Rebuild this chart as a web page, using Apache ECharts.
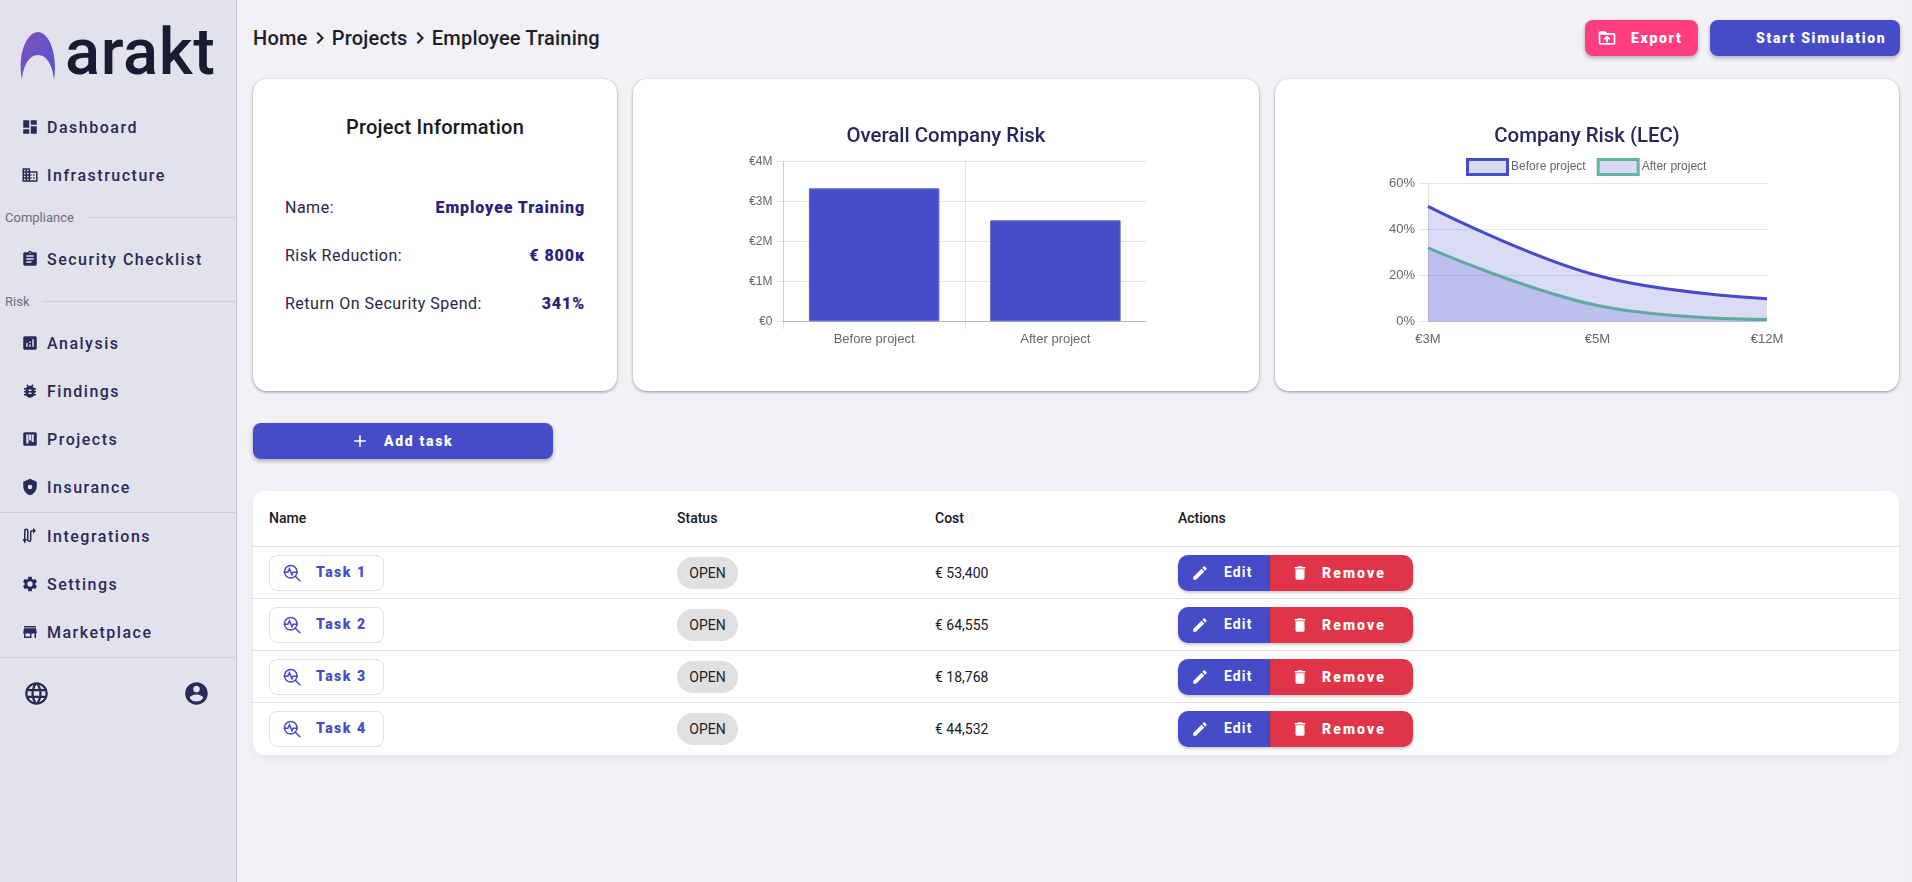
<!DOCTYPE html>
<html>
<head>
<meta charset="utf-8">
<title>arakt</title>
<script src="https://cdn.jsdelivr.net/npm/echarts@6/dist/echarts.min.js"></script>
<style>
html,body{margin:0;padding:0;width:1912px;height:882px;overflow:hidden;background:#f1f1f6;font-family:Roboto,sans-serif;color:#1c1c28}
.abs{position:absolute}
.logotext{left:65px;top:12px;font:500 65px/80px Roboto,sans-serif;color:#171c33;letter-spacing:.6px}
.nav{left:47px;font-size:16px;font-weight:500;letter-spacing:1.5px;color:#2b2a57;line-height:20px;white-space:nowrap}
svg{fill:currentColor;display:block}
.sect{left:5px;font-size:13px;color:#6d6d7d;line-height:16px}
.sline{height:1px;background:#cbcbdb}
.crumb{left:253px;top:25px;font-size:20px;font-weight:500;letter-spacing:.2px;color:#1d1d2b;line-height:26px;white-space:nowrap}
.crumb svg{display:inline-block;vertical-align:-5px;width:24px;height:24px;margin:0 -5px}
.btn{color:#fff;font-weight:900;font-size:14px;letter-spacing:1.7px;border-radius:8px;box-shadow:0 2px 4px rgba(0,0,0,.3);text-align:left;line-height:36px;white-space:nowrap}
.card{background:#fff;border-radius:14px;box-shadow:0 1px 3px rgba(0,0,0,.4)}
.lbl{left:285px;font-size:16px;color:#26264a;letter-spacing:.5px;line-height:20px;white-space:nowrap}
.val{right:1327px;font-size:16px;font-weight:900;color:#2a2378;letter-spacing:.9px;line-height:20px;white-space:nowrap}
.th{top:518px;font-size:14px;font-weight:500;line-height:18px;margin-top:-9px;color:#17171f}
.rowline{left:253px;width:1646px;height:1px;background:#e0e0e0}
.task{left:269px;width:113px;height:34px;border:1px solid #e0e0e6;border-radius:8px;color:#464bc8;font-weight:900;font-size:14px;letter-spacing:1.5px;line-height:33px;background:#fff}
.chip{left:677px;width:61px;height:32px;border-radius:16px;background:#e0e0e0;text-align:center;font-size:14px;line-height:32px;color:#222}
.cost{left:935px;font-size:14px;line-height:18px;color:#17171f}
.edit{left:1178px;width:92px;height:36px;background:#464bc8;border-radius:10px 0 0 10px;color:#fff;font-weight:700;font-size:14px;letter-spacing:1.1px;line-height:34px;box-shadow:0 2px 3px rgba(0,0,0,.2)}
.rem{left:1270px;width:143px;height:36px;background:#e03548;border-radius:0 10px 10px 0;color:#fff;font-weight:900;font-size:14px;letter-spacing:2.1px;line-height:36px;box-shadow:0 2px 3px rgba(0,0,0,.2)}
</style>
</head>
<body>
<div id="page"></div>
<script>
// page content
var sectionLabels = ['Compliance', 'Risk'];
var navLabels = ['Dashboard', 'Infrastructure', 'Security Checklist', 'Analysis', 'Findings', 'Projects', 'Insurance', 'Integrations', 'Settings', 'Marketplace'];
var infoLabels = ['Name:', 'Risk Reduction:', 'Return On Security Spend:'];
var infoValues = ['Employee Training', '€ 800\u043a', '341%'];
var tableHeaders = ['Name', 'Status', 'Cost', 'Actions'];
var taskNames = ['Task 1', 'Task 2', 'Task 3', 'Task 4'];
var taskStatus = ['OPEN', 'OPEN', 'OPEN', 'OPEN'];
var taskCosts = ['€ 53,400', '€ 64,555', '€ 18,768', '€ 44,532'];

// chart data
var riskCategories = ['Before project', 'After project'];
var riskValues = [3325000, 2525000];
var lecLabels = ['€3M', '€5M', '€12M'];
var lecBefore = [50, 20, 10];
var lecAfter = [32, 7, 1];

var icons = {
  dashboard: 'M3 13h8V3H3v10zm0 8h8v-6H3v6zm10 0h8V11h-8v10zm0-18v6h8V3h-8z',
  domain: 'M12 7V3H2v18h20V7H12zM6 19H4v-2h2v2zm0-4H4v-2h2v2zm0-4H4V9h2v2zm0-4H4V5h2v2zm4 12H8v-2h2v2zm0-4H8v-2h2v2zm0-4H8V9h2v2zm0-4H8V5h2v2zm10 12h-8v-2h2v-2h-2v-2h2v-2h-2V9h8v10zm-2-8h-2v2h2v-2zm0 4h-2v2h2v-2z',
  assignment: 'M19 3h-4.18C14.4 1.84 13.3 1 12 1c-1.3 0-2.4.84-2.82 2H5c-1.1 0-2 .9-2 2v14c0 1.1.9 2 2 2h14c1.1 0 2-.9 2-2V5c0-1.1-.9-2-2-2zm-7 0c.55 0 1 .45 1 1s-.45 1-1 1-1-.45-1-1 .45-1 1-1zm2 14H7v-2h7v2zm3-4H7v-2h10v2zm0-4H7V7h10v2z',
  analytics: 'M19 3H5c-1.1 0-2 .9-2 2v14c0 1.1.9 2 2 2h14c1.1 0 2-.9 2-2V5c0-1.1-.9-2-2-2zM9 17H7v-5h2v5zm4 0h-2v-3h2v3zm0-5h-2v-2h2v2zm4 5h-2V7h2v10z',
  bug: 'M20 8h-2.81c-.45-.78-1.07-1.45-1.82-1.96L17 4.41 15.59 3l-2.17 2.17C12.96 5.06 12.49 5 12 5c-.49 0-.96.06-1.41.17L8.41 3 7 4.41l1.62 1.63C7.88 6.55 7.26 7.22 6.81 8H4v2h2.09c-.05.33-.09.66-.09 1v1H4v2h2v1c0 .34.04.67.09 1H4v2h2.81c1.04 1.79 2.97 3 5.19 3s4.15-1.21 5.19-3H20v-2h-2.09c.05-.33.09-.66.09-1v-1h2v-2h-2v-1c0-.34-.04-.67-.09-1H20V8zm-6 8h-4v-2h4v2zm0-4h-4v-2h4v2z',
  kanban: 'M5 3h14a2 2 0 0 1 2 2v14a2 2 0 0 1-2 2H5a2 2 0 0 1-2-2V5a2 2 0 0 1 2-2zm2 3v12h3V6H7zm3.8 0v8h2.6V6h-2.6zm3.4 0v10h2.8V6h-2.8z',
  shield: 'M12 1L3 5v6c0 5.55 3.84 10.74 9 12 5.16-1.26 9-6.45 9-12V5l-9-4zm0 8a3 3 0 1 1 0 6 3 3 0 0 1 0-6z',
  route: 'M7 2a3 3 0 0 1 3 3v12a1 1 0 0 0 2 0V7a3 3 0 0 1 3-3h1V1l4 4-4 4V6h-1a1 1 0 0 0-1 1v10a3 3 0 0 1-6 0V5a1 1 0 0 0-2 0v11h2l-3 6-3-6h2V5a3 3 0 0 1 3-3z',
  settings: 'M19.14 12.94c.04-.3.06-.61.06-.94 0-.32-.02-.64-.07-.94l2.03-1.58c.18-.14.23-.41.12-.61l-1.92-3.32c-.12-.22-.37-.29-.59-.22l-2.39.96c-.5-.38-1.03-.7-1.62-.94l-.36-2.54c-.04-.24-.24-.41-.48-.41h-3.84c-.24 0-.43.17-.47.41l-.36 2.54c-.59.24-1.13.57-1.62.94l-2.39-.96c-.22-.08-.47 0-.59.22L2.74 8.87c-.12.21-.08.47.12.61l2.03 1.58c-.05.3-.09.63-.09.94s.02.64.07.94l-2.03 1.58c-.18.14-.23.41-.12.61l1.92 3.32c.12.22.37.29.59.22l2.39-.96c.5.38 1.03.7 1.62.94l.36 2.54c.05.24.24.41.48.41h3.84c.24 0 .44-.17.47-.41l.36-2.54c.59-.24 1.13-.56 1.62-.94l2.39.96c.22.08.47 0 .59-.22l1.92-3.32c.12-.22.07-.47-.12-.61l-2.01-1.58zM12 15.6c-1.98 0-3.6-1.62-3.6-3.6s1.62-3.6 3.6-3.6 3.6 1.62 3.6 3.6-1.62 3.6-3.6 3.6z',
  store: 'M20 4H4v2h16V4zm1 10v-2l-1-5H4l-1 5v2h1v6h10v-6h4v6h2v-6h1zm-9 4H6v-4h6v4z',
  language: 'M11.99 2C6.47 2 2 6.48 2 12s4.47 10 9.99 10C17.52 22 22 17.52 22 12S17.52 2 11.99 2zm6.93 6h-2.95c-.32-1.25-.78-2.45-1.38-3.56 1.84.63 3.37 1.91 4.33 3.56zM12 4.04c.83 1.2 1.48 2.53 1.91 3.96h-3.82c.43-1.43 1.08-2.76 1.91-3.96zM4.26 14C4.1 13.36 4 12.69 4 12s.1-1.36.26-2h3.38c-.08.66-.14 1.32-.14 2 0 .68.06 1.34.14 2H4.26zm.82 2h2.95c.32 1.25.78 2.45 1.38 3.56-1.84-.63-3.37-1.9-4.33-3.56zm2.95-8H5.08c.96-1.66 2.49-2.93 4.33-3.56C8.81 5.55 8.35 6.75 8.03 8zM12 19.96c-.83-1.2-1.48-2.53-1.91-3.96h3.82c-.43 1.43-1.08 2.76-1.91 3.96zM14.34 14H9.66c-.09-.66-.16-1.32-.16-2 0-.68.07-1.35.16-2h4.68c.09.65.16 1.32.16 2 0 .68-.07 1.34-.16 2zm.25 5.56c.6-1.11 1.06-2.31 1.38-3.56h2.95c-.96 1.65-2.49 2.93-4.33 3.56zM16.36 14c.08-.66.14-1.32.14-2 0-.68-.06-1.34-.14-2h3.38c.16.64.26 1.31.26 2s-.1 1.36-.26 2h-3.38z',
  account: 'M12 2C6.48 2 2 6.48 2 12s4.48 10 10 10 10-4.48 10-10S17.52 2 12 2zm0 3c1.66 0 3 1.34 3 3s-1.34 3-3 3-3-1.34-3-3 1.34-3 3-3zm0 14.2c-2.5 0-4.71-1.28-6-3.22.03-1.99 4-3.08 6-3.08 1.99 0 5.97 1.09 6 3.08-1.29 1.94-3.5 3.22-6 3.22z',
  edit: 'M3 17.25V21h3.75L17.81 9.94l-3.75-3.75L3 17.25zM20.71 7.04c.39-.39.39-1.02 0-1.41l-2.34-2.34c-.39-.39-1.02-.39-1.41 0l-1.83 1.83 3.75 3.75 1.83-1.83z',
  del: 'M6 19c0 1.1.9 2 2 2h8c1.1 0 2-.9 2-2V7H6v12zM19 4h-3.5l-1-1h-5l-1 1H5v2h14V4z',
  upload: 'M20 6h-8l-2-2H4c-1.1 0-2 .9-2 2v12c0 1.1.9 2 2 2h16c1.1 0 2-.9 2-2V8c0-1.1-.9-2-2-2zm0 12H4V8h16v10zM9.41 14.42L11 12.84V17h2v-4.16l1.59 1.59L16 13.01 12.01 9 8 13.01l1.41 1.41z',
  add: 'M19 13h-6v6h-2v-6H5v-2h6V5h2v6h6v2z',
  chevron: 'M8.59 16.59L13.17 12 8.59 7.41 10 6l6 6-6 6z'
};
var navIcons = ['dashboard', 'domain', 'assignment', 'analytics', 'bug', 'kanban', 'shield', 'route', 'settings', 'store'];
var navTops = [128, 176, 260, 344, 392, 440, 488, 537, 585, 633];

function svg(name, style) {
  return '<svg class="abs" viewBox="0 0 24 24" style="' + style + '"><path fill-rule="evenodd" d="' + icons[name] + '"/></svg>';
}
function box(cls, style, html) {
  return '<div class="abs ' + cls + '" style="' + style + '">' + (html || '') + '</div>';
}

var html = box('', 'left:0;top:0;width:236px;height:882px;background:#e2e2ec;border-right:1px solid #c4c4d4');
html += box('', 'left:1905px;top:0;width:7px;height:882px;background:#eeeef3');
// logo
html += '<svg class="abs" style="left:18px;top:30px;width:40px;height:52px" viewBox="0 0 40 52"><defs><linearGradient id="lg" x1="0" y1="0" x2="1" y2="1"><stop offset="0" stop-color="#8052b6"/><stop offset="1" stop-color="#5450dc"/></linearGradient></defs><path fill="url(#lg)" d="M4 50C-1 24 9 2 20 2C31 2 40 24 36 50C35 36 29 25 20 25C11 25 5 36 4 50Z"/></svg>';
html += box('logotext', '', 'arakt');
navLabels.forEach(function (n, i) {
  html += box('nav', 'top:' + (navTops[i] - 10) + 'px', n);
  html += svg(navIcons[i], 'left:21px;top:' + (navTops[i] - 10) + 'px;width:18px;height:18px;color:#2b2a57');
});
html += box('sect', 'top:210px', sectionLabels[0]) + box('sline', 'left:88px;top:217px;width:149px');
html += box('sect', 'top:294px', sectionLabels[1]) + box('sline', 'left:42px;top:301px;width:195px');
html += box('sline', 'left:0;top:512px;width:237px') + box('sline', 'left:0;top:657px;width:237px');
html += svg('language', 'left:23px;top:680px;width:27px;height:27px;color:#2b2a57');
html += svg('account', 'left:183px;top:680px;width:27px;height:27px;color:#2b2a57');

// header
var chev = '<svg viewBox="0 0 24 24"><path d="' + icons.chevron + '"/></svg>';
html += box('crumb', '', 'Home ' + chev + ' Projects ' + chev + ' Employee Training');
html += box('btn', 'left:1585px;top:20px;width:113px;height:36px;background:#ff3d7f', '<span class="abs" style="left:46px">Export</span>' + svg('upload', 'left:12px;top:8px;width:20px;height:20px'));
html += box('btn', 'left:1710px;top:20px;width:190px;height:36px;background:#464bc8', '<span class="abs" style="left:46px">Start Simulation</span>');

// project info card
html += box('card', 'left:253px;top:79px;width:364px;height:312px');
html += box('', 'left:253px;top:114px;width:364px;text-align:center;font-size:20px;font-weight:500;letter-spacing:.25px;line-height:26px;color:#17171f', 'Project Information');
infoLabels.forEach(function (n, i) {
  var t = 198 + i * 48;
  html += box('lbl', 'top:' + t + 'px', n) + box('val', 'top:' + t + 'px', infoValues[i]);
});

// chart cards
html += box('card', 'left:633px;top:79px;width:626px;height:312px', '');
html += box('card', 'left:1275px;top:79px;width:624px;height:312px', '');
html += '<div id="riskChart" class="abs" style="left:633px;top:79px;width:626px;height:312px"></div>';
html += '<div id="lecChart" class="abs" style="left:1275px;top:79px;width:624px;height:312px"></div>';

// add task
html += box('btn', 'left:253px;top:423px;width:300px;height:36px;background:#464bc8', '<span class="abs" style="left:131px">Add task</span>' + svg('add', 'left:97px;top:8px;width:20px;height:20px'));

// table
html += box('', 'left:253px;top:491px;width:1646px;height:264px;background:#fff;border-radius:12px;box-shadow:0 3px 10px rgba(0,0,0,.05)');
var thX = [269, 677, 935, 1178];
tableHeaders.forEach(function (n, i) {
  html += box('th', 'left:' + thX[i] + 'px', n);
});
html += box('rowline', 'top:546px');
taskNames.forEach(function (n, i) {
  var t = 555 + i * 52;
  if (i > 0) html += box('rowline', 'top:' + (t - 9) + 'px');
  html += box('task', 'top:' + t + 'px', '<span class="abs" style="left:46px">' + n + '</span>' +
    '<svg class="abs" viewBox="0 0 24 24" style="left:12px;top:7px;width:20px;height:20px;fill:none;stroke:#464bc8;stroke-width:1.8"><circle cx="10.5" cy="10.5" r="7.5"/><path d="M16 16l6 6M2 11h5l2-4 3 7 1.5-3H19"/></svg>');
  html += box('chip', 'top:' + (t + 2) + 'px', taskStatus[i]);
  html += box('cost', 'top:' + (t + 9) + 'px', taskCosts[i]);
  html += box('edit', 'top:' + t + 'px', '<span class="abs" style="left:46px">Edit</span>' + svg('edit', 'left:13px;top:9px;width:18px;height:18px'));
  html += box('rem', 'top:' + t + 'px', '<span class="abs" style="left:52px">Remove</span>' + svg('del', 'left:21px;top:9px;width:18px;height:18px'));
});
document.getElementById('page').innerHTML = html;

var gridColor = 'rgba(0,0,0,0.1)';
var axisFont = 'Liberation Sans';
var titleStyle = {fontFamily: 'Roboto', fontSize: 20.4, fontWeight: 500, color: '#27275c'};

var riskChart = echarts.init(document.getElementById('riskChart'));
riskChart.setOption({
  animation: false,
  title: {text: 'Overall Company Risk', left: 'center', top: 43, textStyle: titleStyle},
  grid: {left: 150.5, top: 82.3, width: 362.5, height: 160},
  xAxis: [{
    type: 'category',
    data: riskCategories,
    axisLine: {lineStyle: {color: 'rgba(0,0,0,0.2)'}},
    axisTick: {show: false},
    axisLabel: {fontFamily: axisFont, fontSize: 13, color: '#666', margin: 12},
    splitLine: {show: true, showMaxLine: false, lineStyle: {color: gridColor}}
  }, {
    // only for the boundary ticks under the axis
    type: 'value', position: 'bottom', min: 0, max: 2,
    axisLine: {show: false},
    axisLabel: {show: false},
    splitLine: {show: false},
    axisTick: {show: true, length: 8, customValues: [0, 1], lineStyle: {color: gridColor}}
  }],
  yAxis: {
    type: 'value', min: 0, max: 4000000, interval: 1000000,
    axisLine: {show: true, lineStyle: {color: gridColor}},
    axisTick: {show: true, length: 8, lineStyle: {color: gridColor}},
    axisLabel: {fontFamily: axisFont, fontSize: 12, color: '#666', margin: 11,
      formatter: function (v) { return v === 0 ? '€0' : '€' + v / 1000000 + 'M'; }},
    splitLine: {show: true, lineStyle: {color: gridColor}}
  },
  series: [{
    type: 'bar',
    data: riskValues,
    barWidth: '72%',
    itemStyle: {color: '#464bc8', borderColor: '#6266d4', borderWidth: 1}
  }]
});

var lecChart = echarts.init(document.getElementById('lecChart'));
lecChart.setOption({
  animation: false,
  title: {text: 'Company Risk (LEC)', left: 'center', top: 43, textStyle: titleStyle},
  legend: {
    left: 184, top: 74, itemWidth: 0, itemHeight: 14, itemGap: 9, icon: 'none',
    formatter: function (name) {
      return (name === 'Before project' ? '{b|}' : '{a|}') + '{t|' + name + '}';
    },
    textStyle: {
      rich: {
        b: {width: 37, height: 12, backgroundColor: '#d8d9f3', borderColor: '#464bc8', borderWidth: 3},
        a: {width: 37, height: 12, backgroundColor: '#d8d9f3', borderColor: '#62b5a0', borderWidth: 3},
        t: {fontFamily: axisFont, fontSize: 12, color: '#666', padding: [0, 0, 0, 5]}
      }
    }
  },
  grid: {left: 153, top: 104.3, width: 339, height: 138.4},
  xAxis: {
    type: 'category',
    boundaryGap: false,
    data: lecLabels,
    axisLine: {show: false},
    axisTick: {show: false},
    axisLabel: {fontFamily: axisFont, fontSize: 13, color: '#666', margin: 11},
    splitLine: {show: false}
  },
  yAxis: {
    type: 'value', min: 0, max: 60, interval: 20,
    axisLine: {show: true, lineStyle: {color: gridColor}},
    axisTick: {show: true, length: 9, lineStyle: {color: gridColor}},
    axisLabel: {fontFamily: axisFont, fontSize: 13, color: '#666', margin: 13, formatter: '{value}%'},
    splitLine: {show: true, lineStyle: {color: gridColor}}
  },
  series: [{
    name: 'Before project',
    type: 'line',
    data: lecBefore,
    smooth: 0.4,
    symbol: 'none',
    lineStyle: {color: '#464bc8', width: 3},
    itemStyle: {color: '#464bc8'},
    areaStyle: {color: 'rgba(70,75,200,0.2)', opacity: 1}
  }, {
    name: 'After project',
    type: 'line',
    data: lecAfter,
    smooth: 0.4,
    symbol: 'none',
    lineStyle: {color: '#5fa9a0', width: 3},
    itemStyle: {color: '#5fa9a0'},
    areaStyle: {color: 'rgba(70,75,200,0.2)', opacity: 1}
  }]
});
</script>
</body>
</html>
